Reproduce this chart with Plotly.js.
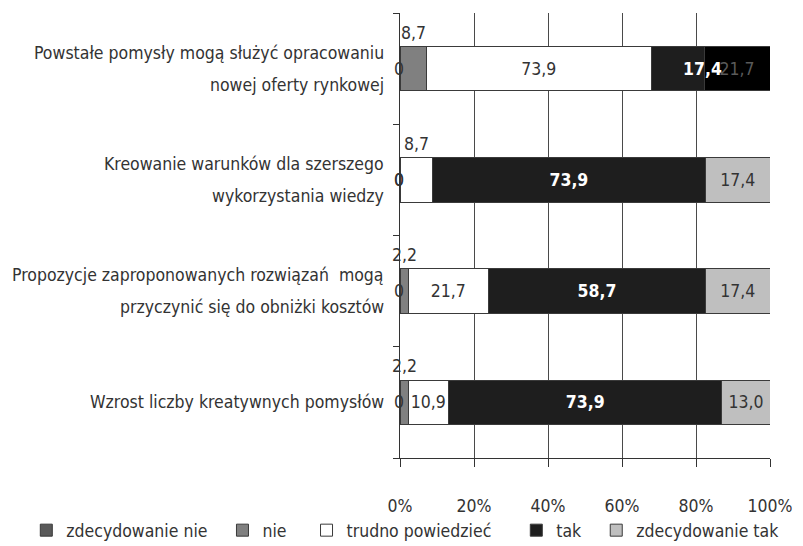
<!DOCTYPE html>
<html><head><meta charset="utf-8">
<script src="https://cdn.plot.ly/plotly-3.0.1.min.js"></script>
<style>html,body{margin:0;padding:0;background:#fff}#chart{width:803px;height:546px}</style>
</head><body><div id="chart"></div>
<script>
// ---- data (listed bottom category first, as the axis draws them) ----
const categories = [
  'Wzrost liczby kreatywnych pomysłów',
  'Propozycje zaproponowanych rozwiązań  mogą<br>przyczynić się do obniżki kosztów',
  'Kreowanie warunków dla szerszego<br>wykorzystania wiedzy',
  'Powstałe pomysły mogą służyć opracowaniu<br>nowej oferty rynkowej'
];
const seriesNames = ['zdecydowanie nie', 'nie', 'trudno powiedzieć', 'tak', 'zdecydowanie tak'];
const zdecydowanieNie = [0, 0, 0, 0];
const nie = [2.2, 2.2, 0, 8.7];
const trudnoPowiedziec = [10.9, 21.7, 8.7, 73.9];
const tak = [73.9, 58.7, 73.9, 17.4];
const zdecydowanieTak = [13.0, 17.4, 17.4, 21.7];
const xTickVals = [0, 20, 40, 60, 80, 100];
const xTickText = ['0%', '20%', '40%', '60%', '80%', '100%'];

// ---- styling ----
const FONT = 'DejaVu Sans Condensed, Liberation Sans Narrow, sans-serif';
const FS = 17.5;
const TXT = '#333333';
const series = [zdecydowanieNie, nie, trudnoPowiedziec, tak, zdecydowanieTak];
const legendPad = [2, 3, 4, 2, 0];
const TOP = categories.length - 1; // top bar has a special look in the reference
const colors = [
  '#595959', '#808080', '#ffffff', '#1e1e1e',
  categories.map((c, i) => i === TOP ? '#000000' : '#bfbfbf')
];
const textColors = [TXT, TXT, TXT, '#ffffff',
  categories.map((c, i) => i === TOP ? '#5a5a5a' : TXT)];
const textWeights = ['normal', 'normal', 'normal', 'bold', 'normal'];

const fmt = v => v === 0 ? '0' : v.toFixed(1).replace('.', ',');

const totals = categories.map((c, i) => series.reduce((s, arr) => s + arr[i], 0));

const annotations = [];
const traces = series.map((vals, si) => {
  const text = vals.map((v, i) => {
    if (v >= 10 && !(si === 3 && i === TOP)) return fmt(v);
    return '';
  });
  const pad = '\u00a0'.repeat(legendPad[si]);
  return {
    type: 'bar', orientation: 'h', name: seriesNames[si] + pad,
    y: categories, x: vals, text: text,
    textposition: 'inside', insidetextanchor: 'middle', textangle: 0,
    constraintext: 'none', cliponaxis: false,
    textfont: {family: FONT, size: FS, color: textColors[si], weight: textWeights[si]},
    marker: {color: colors[si], line: {color: '#3a3a3a', width: 1}},
    hoverinfo: 'skip'
  };
});

// value labels for zero / small segments
categories.forEach((c, i) => {
  let cum = 0;
  series.forEach((vals, si) => {
    const v = vals[i];
    const start = cum / totals[i] * 100;
    const mid = (cum + v / 2) / totals[i] * 100;
    cum += v;
    if (v === 0) {
      annotations.push({x: start, y: c, xref: 'x', yref: 'y', text: '0', showarrow: false,
        font: {family: FONT, size: FS, color: TXT}, xshift: -1});
    } else if (v < 10) {
      annotations.push({x: mid, y: c, xref: 'x', yref: 'y', text: fmt(v), showarrow: false,
        font: {family: FONT, size: FS, color: TXT}, yshift: 36});
    } else if (si === 3 && i === TOP) {
      annotations.push({x: mid, y: c, xref: 'x', yref: 'y', text: fmt(v), showarrow: false,
        font: {family: FONT, size: FS, color: '#ffffff', weight: 'bold'}, xshift: 25});
    }
  });
});

// category labels (two lines with wide spacing)
categories.forEach(c => {
  const lines = c.split('<br>');
  lines.forEach((ln, k) => {
    const shift = lines.length === 1 ? 0 : (k === 0 ? 16 : -16);
    annotations.push({x: 0, xref: 'paper', xanchor: 'right', xshift: -14,
      y: c, yref: 'y', yshift: shift, text: ln, showarrow: false,
      font: {family: FONT, size: FS, color: TXT}});
  });
});

const layout = {
  width: 803, height: 546,
  margin: {l: 400, r: 33, t: 13, b: 88, autoexpand: false},
  paper_bgcolor: '#ffffff', plot_bgcolor: '#ffffff',
  barmode: 'stack', barnorm: 'percent', bargap: 0.6,
  font: {family: FONT, size: FS, color: TXT},
  showlegend: true,
  legend: {orientation: 'h', xref: 'paper', yref: 'paper', x: -1.01, xanchor: 'left',
    y: -0.122, yanchor: 'top', traceorder: 'normal', itemwidth: 30,
    font: {family: FONT, size: FS, color: TXT}},
  xaxis: {range: [0, 100], tickvals: xTickVals, ticktext: xTickText, showgrid: true,
    gridcolor: '#4a4a4a', gridwidth: 1, showline: true, linecolor: '#333333', linewidth: 1,
    ticks: 'outside', ticklen: 8, tickcolor: '#333333', ticklabelstandoff: 24,
    zeroline: false, tickfont: {family: FONT, size: FS, color: TXT}, fixedrange: true},
  yaxis: {type: 'category', showline: true, linecolor: '#333333',
    linewidth: 1, ticks: 'outside', tickson: 'boundaries', ticklen: 6, tickcolor: '#333333',
    showgrid: false, showticklabels: false, zeroline: false, fixedrange: true},
  annotations: annotations
};

Plotly.newPlot('chart', traces, layout, {displayModeBar: false, staticPlot: true});
</script>
</body></html>
